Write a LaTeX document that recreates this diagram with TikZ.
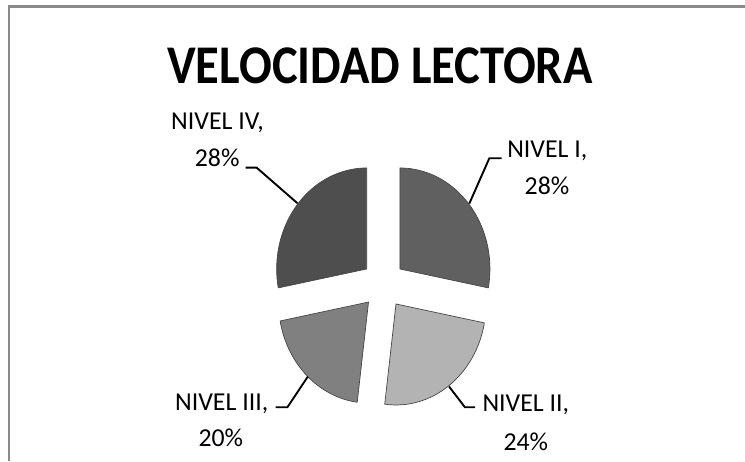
\documentclass[tikz,border=0pt]{standalone}
\usepackage{fontspec}
\setmainfont{Carlito}
\newfontfamily\titlefont[FakeStretch=0.89]{Carlito}
\usetikzlibrary{calc}
\definecolor{frame}{RGB}{138,138,138}
\definecolor{sliceI}{RGB}{96,96,96}
\definecolor{sliceII}{RGB}{179,179,179}
\definecolor{sliceIII}{RGB}{128,128,128}
\definecolor{sliceIV}{RGB}{78,78,78}
\definecolor{edge}{RGB}{70,70,70}
\begin{document}
\begin{tikzpicture}[x=1pt,y=1pt,
  slice/.style={draw=edge,line width=0.7pt,line join=round},
  lbl/.style={anchor=base,inner sep=0pt,font=\fontsize{25.8}{30}\selectfont},
  leader/.style={draw=black,line width=1.9pt,line join=miter}]
\useasboundingbox (0,0) rectangle (745,461);
% frame
\draw[frame,line width=2.2pt] (745,454.5) -- (9,454.5) -- (9,0);
% title
\node[anchor=base,inner sep=0pt] (title) at (380,377.7)
  {\titlefont\bfseries\fontsize{54.5}{60}\selectfont VELOCIDAD LECTORA};
% pie
\coordinate (C) at (383.3,176.6);
\coordinate (cI)   at ($(C)+(39.6:21.6 and 24.2)$);
\coordinate (cII)  at ($(C)+(-54:21.6 and 24.2)$);
\coordinate (cIII) at ($(C)+(-133.2:21.6 and 24.2)$);
\coordinate (cIV)  at ($(C)+(140.4:21.6 and 24.2)$);
\filldraw[slice,fill=sliceI] (cI) -- ++(90:90 and 101)
  arc[start angle=90,end angle=-10.8,x radius=90,y radius=101] -- cycle;
\filldraw[slice,fill=sliceII] (cII) -- ++(-10.8:90 and 101)
  arc[start angle=-10.8,end angle=-97.2,x radius=90,y radius=101] -- cycle;
\filldraw[slice,fill=sliceIII] (cIII) -- ++(-97.2:90 and 101)
  arc[start angle=-97.2,end angle=-169.2,x radius=90,y radius=101] -- cycle;
\filldraw[slice,fill=sliceIV] (cIV) -- ++(90:90 and 101)
  arc[start angle=90,end angle=190.8,x radius=90,y radius=101] -- cycle;
% labels
\node[lbl] (lIVa) at (217.5,331.7) {NIVEL IV,};
\node[lbl] (lIVb) at (217.2,294.3) {28\%};
\node[lbl] (lIa) at (547.3,303.7) {NIVEL I,};
\node[lbl] (lIb) at (547.0,266.7) {28\%};
\node[lbl] (lIIIa) at (221.7,50.3) {NIVEL III,};
\node[lbl] (lIIIb) at (220.8,14.3) {20\%};
\node[lbl] (lIIa) at (525.8,49.3) {NIVEL II,};
\node[lbl] (lIIb) at (525.8,11.0) {24\%};
% leader points
\coordinate (pIVa) at (245.7,293.3);
\coordinate (pIVb) at (256.7,293.3);
\coordinate (pIVc) at (297.5,257.7);
\coordinate (pIa) at (501.7,302.7);
\coordinate (pIb) at (489.3,302.7);
\coordinate (pIc) at (469.3,257.4);
\coordinate (pIIIa) at (275.5,53.7);
\coordinate (pIIIb) at (287.4,53.7);
\coordinate (pIIIc) at (307.8,84.3);
\coordinate (pIIa) at (475.0,53.7);
\coordinate (pIIb) at (465.0,53.7);
\coordinate (pIIc) at (449.0,74.5);
\draw[leader] (pIVa) -- (pIVb) -- (pIVc);
\draw[leader] (pIa) -- (pIb) -- (pIc);
\draw[leader] (pIIIa) -- (pIIIb) -- (pIIIc);
\draw[leader] (pIIa) -- (pIIb) -- (pIIc);
\end{tikzpicture}
\end{document}
